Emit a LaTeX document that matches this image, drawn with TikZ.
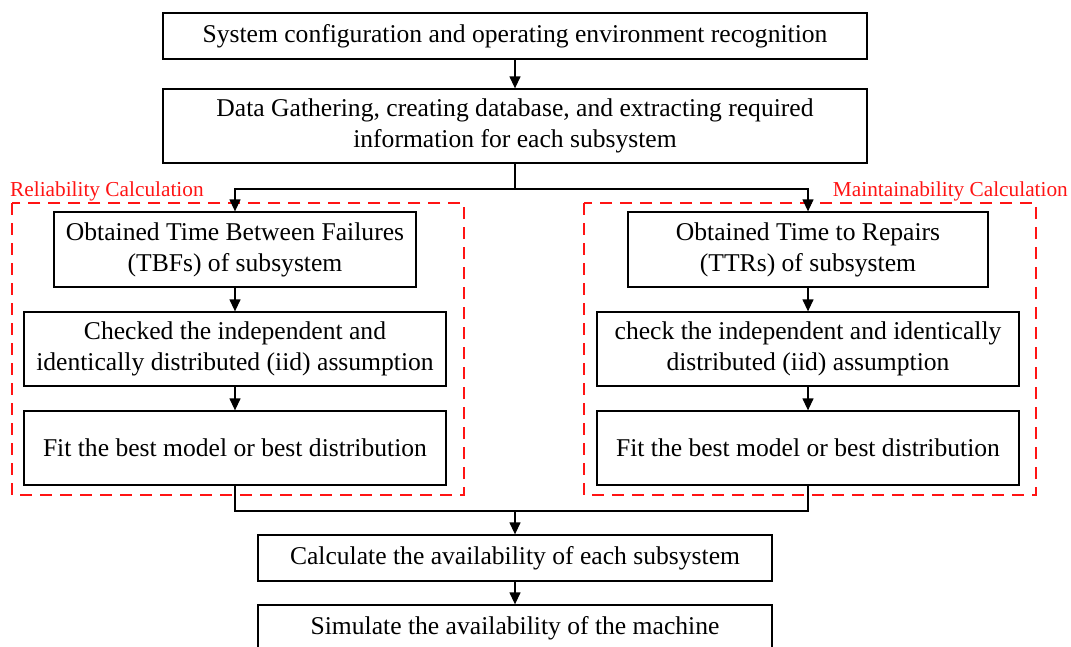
\documentclass[tikz,border=0pt]{standalone}
\usepackage{fontspec}
\setmainfont{Liberation Serif}
\usetikzlibrary{arrows.meta, positioning, calc}
\definecolor{fred}{RGB}{255, 20, 20}
\tikzset{
    stepbox/.style={draw, line width=1.3pt, align=center, inner sep=0pt,
        font=\fontsize{25.6}{31}\selectfont},
    widebox/.style={stepbox, minimum width=704pt},
    sidebox/.style={stepbox, minimum width=422pt, minimum height=74pt},
    flow/.style={line width=1.3pt, -{Triangle[length=12pt, width=11pt]}},
    groupframe/.style={draw=fred, line width=1.6pt, dash pattern=on 12pt off 8pt},
    grouplabel/.style={text=fred, inner sep=0pt, font=\fontsize{21.3}{25}\selectfont}
}

\begin{document}
\begin{tikzpicture}[x=1pt, y=-1pt]
    \clip (0,0) rectangle (1071,646);

    % Common steps at the top
    \node[widebox, minimum height=46pt] (sys) at (515,36)
        {System configuration and operating environment recognition};
    \node[widebox, minimum height=74pt] (data) at (515,126)
        {Data Gathering, creating database, and extracting required\\information for each subsystem};

    % Reliability side
    \draw[groupframe] (12,203) rectangle (464,495);
    \node[grouplabel, anchor=base west] (rellabel) at (10,196) {Reliability Calculation};
    \node[stepbox, minimum width=362pt, minimum height=75pt] (tbf) at (235,249.5)
        {Obtained Time Between Failures\\(TBFs) of subsystem};
    \node[sidebox] (iidrel) at (235,349)
        {Checked the independent and\\identically distributed (iid) assumption};
    \node[sidebox] (fitrel) at (235,448) {Fit the best model or best distribution};

    % Maintainability side
    \draw[groupframe] (584,203) rectangle (1036,495);
    \node[grouplabel, anchor=base east] (mntlabel) at (1068,196) {Maintainability Calculation};
    \node[stepbox, minimum width=360pt, minimum height=75pt] (ttr) at (808,249.5)
        {Obtained Time to Repairs\\(TTRs) of subsystem};
    \node[sidebox] (iidmnt) at (808,349)
        {check the independent and identically\\distributed (iid) assumption};
    \node[sidebox] (fitmnt) at (808,448) {Fit the best model or best distribution};

    % Availability steps
    \node[stepbox, minimum width=514pt, minimum height=46pt] (avail) at (515,558)
        {Calculate the availability of each subsystem};
    \node[stepbox, minimum width=514pt, minimum height=46pt] (simul) at (515,628)
        {Simulate the availability of the machine};

    % Connectors
    \coordinate (split) at (515,189);
    \coordinate (merge) at (515,511);
    \foreach \a/\b in {sys/data, tbf/iidrel, iidrel/fitrel, ttr/iidmnt, iidmnt/fitmnt, avail/simul} {
        \draw[flow] (\a.south) -- (\b.north);
    }
    \draw[line width=1.3pt] (data.south) -- (split);
    \draw[flow] (split) -| (tbf.north);
    \draw[flow] (split) -| (ttr.north);
    \draw[line width=1.3pt] (fitrel.south) |- (merge) -| (fitmnt.south);
    \draw[flow] (merge) -- (avail.north);
\end{tikzpicture}
\end{document}
